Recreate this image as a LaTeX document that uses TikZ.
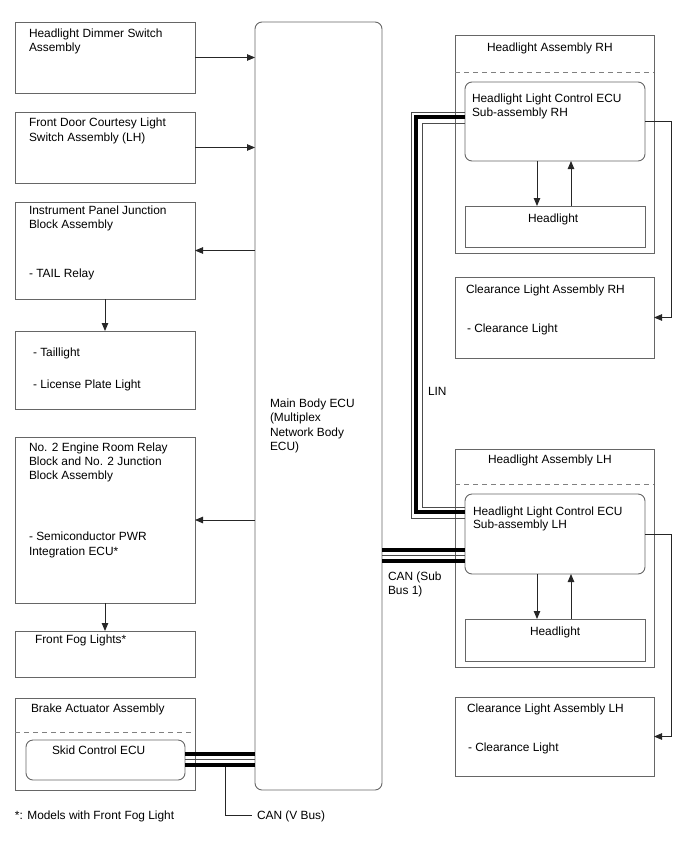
\documentclass[tikz,border=0pt]{standalone}
\usepackage{fontspec}
\setmainfont{Liberation Sans}
\usetikzlibrary{arrows.meta}
\begin{document}
\begin{tikzpicture}[x=1pt,y=-1pt,
 box/.style={draw=black!60, line width=0.9pt, anchor=north west, inner sep=0pt, outer sep=0pt},
 rbox/.style={box, rounded corners=7pt},
 lbl/.style={anchor=base west, inner sep=0pt, outer sep=0pt, font=\fontsize{11.9}{14}\selectfont},
 conn/.style={draw=black!85, line width=0.9pt},
 arr/.style={conn, -{Triangle[length=8pt,width=6.5pt]}},
 dsh/.style={draw=black!50, line width=0.9pt, dash pattern=on 5pt off 4pt},
 thk/.style={draw=black, line width=4pt},
 thn/.style={draw=black!70, line width=1pt},
]
\useasboundingbox (0,0) rectangle (688,852);

% left boxes
\node[box, minimum width=180pt, minimum height=71pt] (b1) at (15,22) {};
\node[box, minimum width=180pt, minimum height=71pt] (b2) at (15,112) {};
\node[box, minimum width=180pt, minimum height=97pt] (b3) at (15,202) {};
\node[box, minimum width=180pt, minimum height=78pt] (b4) at (15,331) {};
\node[box, minimum width=180pt, minimum height=166pt] (b5) at (15,437) {};
\node[box, minimum width=180pt, minimum height=46pt] (b6) at (15,631) {};
\node[box, minimum width=180pt, minimum height=92pt] (brake) at (15,698) {};
\node[rbox, minimum width=159pt, minimum height=40pt] (skid) at (26,740) {};
\draw[dsh] (brake.west |- 0,732) -- (brake.east |- 0,732);

% main ECU
\node[rbox, minimum width=127pt, minimum height=768pt] (ecu) at (255,22) {};

% right side
\node[box, minimum width=199pt, minimum height=218pt] (hlaR) at (455,35) {};
\node[rbox, minimum width=180pt, minimum height=79pt] (ecuR) at (465,82) {};
\node[box, minimum width=180pt, minimum height=41pt] (hlR) at (465,206) {};
\node[box, minimum width=199pt, minimum height=81pt] (clR) at (455,277) {};
\draw[dsh] (hlaR.west |- 0,72) -- (hlaR.east |- 0,72);

\node[box, minimum width=199pt, minimum height=218pt] (hlaL) at (455,449) {};
\node[rbox, minimum width=180pt, minimum height=80pt] (ecuL) at (465,494) {};
\node[box, minimum width=180pt, minimum height=42pt] (hlL) at (465,619) {};
\node[box, minimum width=199pt, minimum height=79pt] (clL) at (455,697) {};
\draw[dsh] (hlaL.west |- 0,484) -- (hlaL.east |- 0,484);

% labels
\node[lbl] (t1a) at (29,37) {Headlight Dimmer Switch};
\node[lbl] (t1b) at (29,51.5) {Assembly};
\node[lbl] (t2a) at (29,126) {Front Door Courtesy Light};
\node[lbl] (t2b) at (29,141) {Switch Assembly (LH)};
\node[lbl] (t3a) at (29,214) {Instrument Panel Junction};
\node[lbl] (t3b) at (29,228.5) {Block Assembly};
\node[lbl] (t3c) at (29,277) {- TAIL Relay};
\node[lbl] (t4a) at (33,356) {- Taillight};
\node[lbl] (t4b) at (33,388) {- License Plate Light};
\node[lbl] (t5a) at (29,451) {No. 2 Engine Room Relay};
\node[lbl] (t5b) at (29,465) {Block and No. 2 Junction};
\node[lbl] (t5c) at (29,479) {Block Assembly};
\node[lbl] (t5d) at (29,540) {- Semiconductor PWR};
\node[lbl] (t5e) at (29,555) {Integration ECU*};
\node[lbl] (t6) at (35,643) {Front Fog Lights*};
\node[lbl] (tba) at (31,712) {Brake Actuator Assembly};
\node[lbl] (tsk) at (52,754) {Skid Control ECU};
\node[lbl] (tfn) at (15,819) {*: Models with Front Fog Light};

\node[lbl] (tea) at (270,407) {Main Body ECU};
\node[lbl] (teb) at (270,421) {(Multiplex};
\node[lbl] (tec) at (270,436) {Network Body};
\node[lbl] (ted) at (270,450) {ECU)};

\node[lbl] (trh) at (487,51) {Headlight Assembly RH};
\node[lbl] (trea) at (472,102) {Headlight Light Control ECU};
\node[lbl] (treb) at (472,116) {Sub-assembly RH};
\node[lbl] (trhl) at (528,222) {Headlight};
\node[lbl] (trca) at (466,293) {Clearance Light Assembly RH};
\node[lbl] (trcb) at (467,332) {- Clearance Light};

\node[lbl] (tlh) at (488,463) {Headlight Assembly LH};
\node[lbl] (tlea) at (473,515) {Headlight Light Control ECU};
\node[lbl] (tleb) at (473,528) {Sub-assembly LH};
\node[lbl] (tlhl) at (530,635) {Headlight};
\node[lbl] (tlca) at (467,712) {Clearance Light Assembly LH};
\node[lbl] (tlcb) at (468,751) {- Clearance Light};

\node[lbl] (tlin) at (428,395) {LIN};
\node[lbl] (tcsa) at (388,580) {CAN (Sub};
\node[lbl] (tcsb) at (388,594) {Bus 1)};
\node[lbl] (tcv) at (257,819) {CAN (V Bus)};

% arrows left
\draw[arr] (b1.east) -- (b1.east -| ecu.west);
\draw[arr] (b2.east) -- (b2.east -| ecu.west);
\draw[arr] (ecu.west |- b3.east) -- (b3.east);
\draw[arr] (b3.south) -- (b4.north);
\draw[arr] (ecu.west |- b5.east) -- (b5.east);
\draw[arr] (b5.south) -- (b6.north);

% arrows right
\draw[arr] ([xshift=-18pt]ecuR.south) -- ([xshift=-18pt]hlR.north);
\draw[arr] ([xshift=16pt]hlR.north) -- ([xshift=16pt]ecuR.south);
\draw[arr] (ecuR.east) -- ++(26,0) |- (clR.east);
\draw[arr] ([xshift=-18pt]ecuL.south) -- ([xshift=-18pt]hlL.north);
\draw[arr] ([xshift=16pt]hlL.north) -- ([xshift=16pt]ecuL.south);
\draw[arr] (ecuL.east) -- ++(26,0) |- (clL.east);

% LIN bus
\draw[thn] (ecuR.west |- 0,112) -- (411,112) -- (411,518) -- (ecuL.west |- 0,518);
\draw[thk] (ecuR.west |- 0,117) -- (415.5,117) -- (415.5,512) -- (ecuL.west |- 0,512);
\draw[thn] (ecuR.west |- 0,123) -- (422,123) -- (422,507) -- (ecuL.west |- 0,507);

% CAN sub bus 1
\draw[thk] (ecu.east |- 0,549.5) -- (ecuL.west |- 0,549.5);
\draw[thn] (ecu.east |- 0,555.5) -- (ecuL.west |- 0,555.5);
\draw[thk] (ecu.east |- 0,561) -- (ecuL.west |- 0,561);

% CAN V bus
\draw[thk] (skid.east |- 0,754) -- (ecu.west |- 0,754);
\draw[thn] (skid.east |- 0,759.5) -- (ecu.west |- 0,759.5);
\draw[thk] (skid.east |- 0,765) -- (ecu.west |- 0,765);
\coordinate (vbt) at (225,767);
\coordinate (vbe) at (252,815);
\draw[conn] (vbt) |- (vbe);
\end{tikzpicture}
\end{document}
